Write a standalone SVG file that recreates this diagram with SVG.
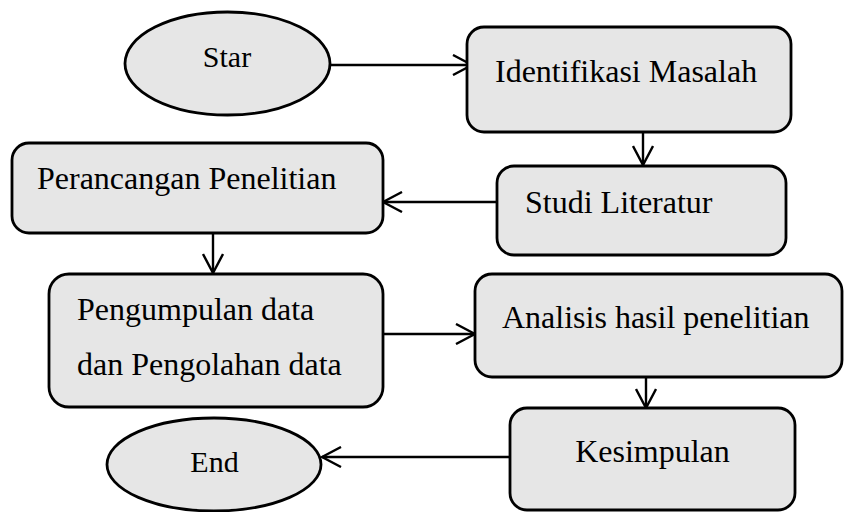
<svg xmlns="http://www.w3.org/2000/svg" width="844" height="512" viewBox="0 0 844 512">
<style>
.n{fill:#e6e6e6;stroke:#000;stroke-width:2.8}
.t{font-family:"Liberation Serif",serif;font-size:32px;fill:#000}
.e{font-family:"Liberation Serif",serif;font-size:30px;fill:#000}
.c{fill:none;stroke:#000;stroke-width:2.4}
</style>
<defs>
<marker id="a" viewBox="0 0 22 22" refX="20" refY="11" markerWidth="22" markerHeight="22" markerUnits="userSpaceOnUse" orient="auto">
<path d="M1,1 L20,11 L1,21" fill="none" stroke="#000" stroke-width="2.4"/>
</marker>
</defs>
<rect width="844" height="512" fill="#fff"/>
<g id="connectors">
<line class="c" x1="330" y1="65" x2="472" y2="65" marker-end="url(#a)"/>
<line class="c" x1="643" y1="132" x2="643" y2="165" marker-end="url(#a)"/>
<line class="c" x1="497" y1="202" x2="383" y2="202" marker-end="url(#a)"/>
<line class="c" x1="213" y1="233" x2="213" y2="273" marker-end="url(#a)"/>
<line class="c" x1="383" y1="334" x2="475" y2="334" marker-end="url(#a)"/>
<line class="c" x1="646" y1="377" x2="646" y2="408" marker-end="url(#a)"/>
<line class="c" x1="510" y1="457" x2="322" y2="457" marker-end="url(#a)"/>
</g>
<g id="star">
<ellipse class="n" cx="227.5" cy="63.5" rx="102.5" ry="51.5"/>
<text class="e" x="227" y="67" text-anchor="middle">Star</text>
</g>
<g id="identifikasi">
<rect class="n" x="467" y="27" width="324" height="105" rx="17"/>
<text class="t" x="495" y="82">Identifikasi Masalah</text>
</g>
<g id="studi">
<rect class="n" x="497" y="166" width="289" height="89" rx="17"/>
<text class="t" x="525" y="213">Studi Literatur</text>
</g>
<g id="perancangan">
<rect class="n" x="12" y="143" width="371" height="90" rx="17"/>
<text class="t" x="37" y="189">Perancangan Penelitian</text>
</g>
<g id="pengumpulan">
<rect class="n" x="49" y="274" width="334" height="133" rx="20"/>
<text class="t" x="77" y="320">Pengumpulan data</text>
<text class="t" x="77" y="375">dan Pengolahan data</text>
</g>
<g id="analisis">
<rect class="n" x="475" y="274" width="367" height="103" rx="17"/>
<text class="t" x="502" y="328">Analisis hasil penelitian</text>
</g>
<g id="kesimpulan">
<rect class="n" x="510" y="408" width="285" height="102" rx="17"/>
<text class="t" x="652.5" y="462" text-anchor="middle">Kesimpulan</text>
</g>
<g id="end">
<ellipse class="n" cx="214" cy="464.5" rx="107" ry="46.5"/>
<text class="e" x="214.5" y="472" text-anchor="middle">End</text>
</g>
</svg>
